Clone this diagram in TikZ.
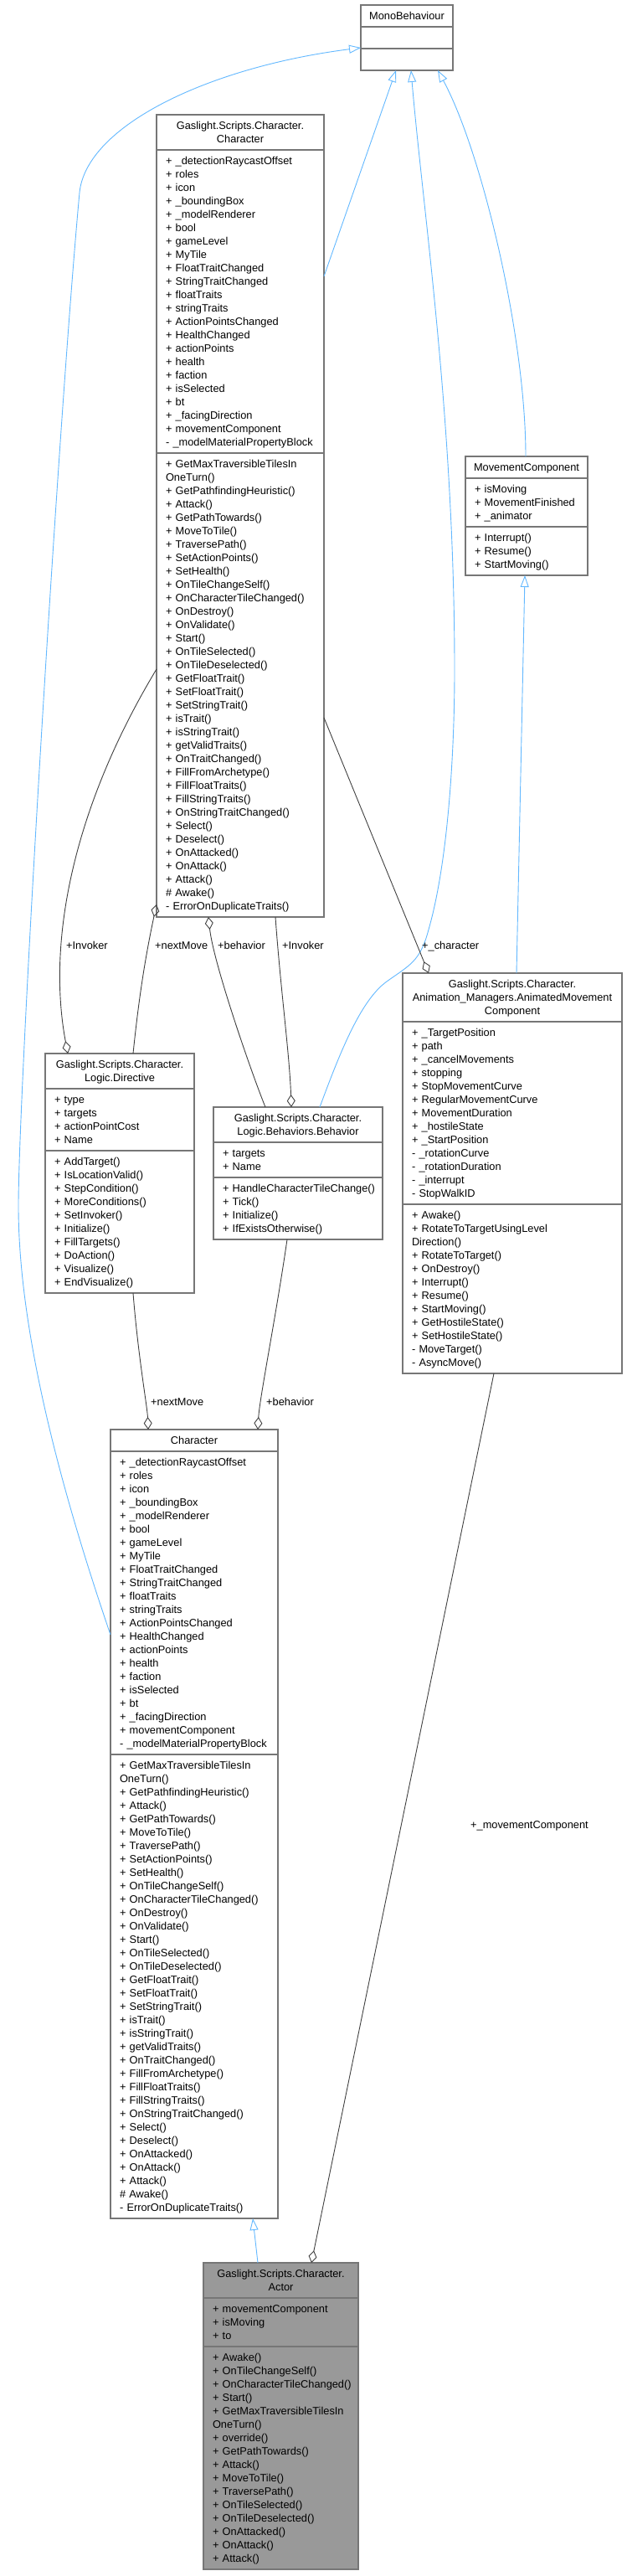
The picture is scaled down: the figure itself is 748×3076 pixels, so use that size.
\documentclass[tikz,border=0pt]{standalone}
\usepackage{fontspec}
\setmainfont{Liberation Sans}
\usepackage{tikz}
\usetikzlibrary{arrows.meta, positioning, calc}
\definecolor{edgeblue}{RGB}{99, 184, 255}
\definecolor{edgegray}{RGB}{64, 64, 64}
\definecolor{boxgray}{RGB}{118, 118, 118}
\definecolor{actorfill}{RGB}{153, 153, 153}
\newcommand{\umlfont}{\fontsize{12.8pt}{16pt}\selectfont\hyphenpenalty=10000\exhyphenpenalty=10000}

% members shared by both Character boxes
\newcommand{\charmembers}{+~\_detectionRaycastOffset\\ +~roles\\ +~icon\\ +~\_boundingBox\\ +~\_modelRenderer\\ +~bool\\ +~gameLevel\\ +~MyTile\\ +~FloatTraitChanged\\ +~StringTraitChanged\\ +~floatTraits\\ +~stringTraits\\ +~ActionPointsChanged\\ +~HealthChanged\\ +~actionPoints\\ +~health\\ +~faction\\ +~isSelected\\ +~bt\\ +~\_facingDirection\\ +~movementComponent\\ -~\_modelMaterialPropertyBlock}
\newcommand{\charmethods}{+~GetMaxTraversibleTilesIn\\ OneTurn()\\ +~GetPathfindingHeuristic()\\ +~Attack()\\ +~GetPathTowards()\\ +~MoveToTile()\\ +~TraversePath()\\ +~SetActionPoints()\\ +~SetHealth()\\ +~OnTileChangeSelf()\\ +~OnCharacterTileChanged()\\ +~OnDestroy()\\ +~OnValidate()\\ +~Start()\\ +~OnTileSelected()\\ +~OnTileDeselected()\\ +~GetFloatTrait()\\ +~SetFloatTrait()\\ +~SetStringTrait()\\ +~isTrait()\\ +~isStringTrait()\\ +~getValidTraits()\\ +~OnTraitChanged()\\ +~FillFromArchetype()\\ +~FillFloatTraits()\\ +~FillStringTraits()\\ +~OnStringTraitChanged()\\ +~Select()\\ +~Deselect()\\ +~OnAttacked()\\ +~OnAttack()\\ +~Attack()\\ \#~Awake()\\ -~ErrorOnDuplicateTraits()}

\begin{document}
\begin{tikzpicture}[
  x=1pt, y=-1pt,
  every node/.style={font=\umlfont},
  classbox/.style={draw=boxgray, line width=1.1pt, fill=white, outer sep=0pt, inner ysep=5pt, anchor=north west,
    execute at begin node={\rule{0pt}{12.5pt}}, execute at end node={\rule[-3.5pt]{0pt}{3.5pt}}},
  classhead/.style={classbox, align=center, inner xsep=4pt, text width=#1},
  classbody/.style={classbox, align=left, inner xsep=11pt, text width=#1},
  inh/.style={draw=edgeblue, line width=0.9pt, -{Triangle[open, length=14pt, width=10pt]}},
  agg/.style={draw=edgegray, line width=0.9pt, -{Diamond[open, length=15pt, width=10pt]}},
  role/.style={inner sep=0pt, anchor=west}
]
  \useasboundingbox (0,0) rectangle (748,3076);

  % Classi
  \node[classhead=102pt] (mono) at (431,6) {MonoBehaviour};
  \node[classbody=88pt, below=0pt of mono] (monoA) {};
  \node[classbody=88pt, below=0pt of monoA] (monoB) {};

  \node[classhead=192pt] (cchar) at (187,137) {Gaslight.Scripts.Character.\\Character};
  \node[classbody=178pt, below=0pt of cchar] (ccharA) {\charmembers};
  \node[classbody=178pt, below=0pt of ccharA] (ccharB) {\charmethods};

  \node[classhead=138pt] (move) at (556,545) {MovementComponent};
  \node[classbody=124pt, below=0pt of move] (moveA) {+~isMoving\\ +~MovementFinished\\ +~\_animator};
  \node[classbody=124pt, below=0pt of moveA] (moveB) {+~Interrupt()\\ +~Resume()\\ +~StartMoving()};

  \node[classhead=170pt] (dir) at (54,1258) {Gaslight.Scripts.Character.\\Logic.Directive};
  \node[classbody=156pt, below=0pt of dir] (dirA) {+~type\\ +~targets\\ +~actionPointCost\\ +~Name};
  \node[classbody=156pt, below=0pt of dirA] (dirB) {+~AddTarget()\\ +~IsLocationValid()\\ +~StepCondition()\\ +~MoreConditions()\\ +~SetInvoker()\\ +~Initialize()\\ +~FillTargets()\\ +~DoAction()\\ +~Visualize()\\ +~EndVisualize()};

  \node[classhead=194pt] (beh) at (255,1322) {Gaslight.Scripts.Character.\\Logic.Behaviors.Behavior};
  \node[classbody=180pt, below=0pt of beh] (behA) {+~targets\\ +~Name};
  \node[classbody=180pt, below=0pt of behA] (behB) {+~HandleCharacterTileChange()\\ +~Tick()\\ +~Initialize()\\ +~IfExistsOtherwise()};

  \node[classhead=254pt] (anim) at (481,1162) {Gaslight.Scripts.Character.\\Animation\_Managers.AnimatedMovement\\Component};
  \node[classbody=240pt, below=0pt of anim] (animA) {+~\_TargetPosition\\ +~path\\ +~\_cancelMovements\\ +~stopping\\ +~StopMovementCurve\\ +~RegularMovementCurve\\ +~MovementDuration\\ +~\_hostileState\\ +~\_StartPosition\\ -~\_rotationCurve\\ -~\_rotationDuration\\ -~\_interrupt\\ -~StopWalkID};
  \node[classbody=240pt, below=0pt of animA] (animB) {+~Awake()\\ +~RotateToTargetUsingLevel\\ Direction()\\ +~RotateToTarget()\\ +~OnDestroy()\\ +~Interrupt()\\ +~Resume()\\ +~StartMoving()\\ +~GetHostileState()\\ +~SetHostileState()\\ -~MoveTarget()\\ -~AsyncMove()};

  \node[classhead=192pt] (char) at (132,1707) {Character};
  \node[classbody=178pt, below=0pt of char] (charA) {\charmembers};
  \node[classbody=178pt, below=0pt of charA] (charB) {\charmethods};

  \node[classhead=177pt, fill=actorfill] (actor) at (243,2702) {Gaslight.Scripts.Character.\\Actor};
  \node[classbody=163pt, fill=actorfill, below=0pt of actor] (actorA) {+~movementComponent\\ +~isMoving\\ +~to};
  \node[classbody=163pt, fill=actorfill, below=0pt of actorA] (actorB) {+~Awake()\\ +~OnTileChangeSelf()\\ +~OnCharacterTileChanged()\\ +~Start()\\ +~GetMaxTraversibleTilesIn\\ OneTurn()\\ +~override()\\ +~GetPathTowards()\\ +~Attack()\\ +~MoveToTile()\\ +~TraversePath()\\ +~OnTileSelected()\\ +~OnTileDeselected()\\ +~OnAttacked()\\ +~OnAttack()\\ +~Attack()};

  % Ereditarieta
  \draw[inh] ($(ccharA.north east)+(0,151)$) -- ($(monoB.south west)+(42,0)$);
  \draw[inh] ($(beh.north west)+(127,0)$) .. controls (405,1260) and (430,1195) .. (462,1172)
    .. controls (490,1152) and (502,1148) .. (512,1110) .. controls (535,1030) and (543,900) .. (543,800)
    .. controls (543,500) and (505,250) .. ($(monoB.south west)+(60,0)$);
  \draw[inh] ($(move.north west)+(72,0)$) .. controls (628,400) and (575,180) .. ($(monoB.south west)+(92,0)$);
  \draw[inh] ($(anim.north west)+(136,0)$) -- ($(moveB.south west)+(71,0)$);
  \draw[inh] ($(charA.north west)+(0,219)$) .. controls (80,1800) and (22,1600) .. (22,1440)
    .. controls (22,1300) and (70,500) .. (95,230) .. controls (103,150) and (250,80) .. ($(monoA.south west)+(0,-1)$);
  \draw[inh] ($(actor.north west)+(65,0)$) -- ($(charB.south west)+(170,0)$);

  % Aggregazioni
  \draw[agg] ($(dir.north west)+(105,0)$) .. controls (165,1200) and (172,1150) .. ($(ccharB.south west)+(0,-15)$);
  \draw[agg] ($(beh.north west)+(62,0)$) .. controls (300,1280) and (255,1150) .. ($(ccharB.south west)+(62,0)$);
  \draw[agg] ($(ccharB.south west)+(142,0)$) .. controls (335,1180) and (346,1260) .. ($(beh.north west)+(93,0)$);
  \draw[agg] ($(ccharB.north west)+(0,258)$) .. controls (90,960) and (55,1120) .. ($(dir.north west)+(27,0)$);
  \draw[agg] ($(ccharB.north east)+(0,316)$) -- ($(anim.north west)+(31,0)$);
  \draw[agg] ($(dirB.south west)+(105,0)$) .. controls (165,1620) and (176,1680) .. ($(char.north west)+(45,0)$);
  \draw[agg] ($(behB.south west)+(88,0)$) .. controls (330,1570) and (310,1670) .. ($(char.north west)+(176,0)$);
  \draw[agg] ($(animB.south west)+(109,0)$) -- ($(actor.north west)+(129,0)$);

  % Ruoli
  \node[role] (nextA) at (185,1129) {+nextMove};
  \node[role] (behavA) at (260,1129) {+behavior};
  \node[role] (invA) at (337,1129) {+Invoker};
  \node[role] (invB) at (79,1129) {+Invoker};
  \node[role] (charRole) at (504,1130) {+\_character};
  \node[role] (nextB) at (180,1674) {+nextMove};
  \node[role] (behavB) at (318,1674) {+behavior};
  \node[role] (moveRole) at (562,2180) {+\_movementComponent};

\end{tikzpicture}
\end{document}
